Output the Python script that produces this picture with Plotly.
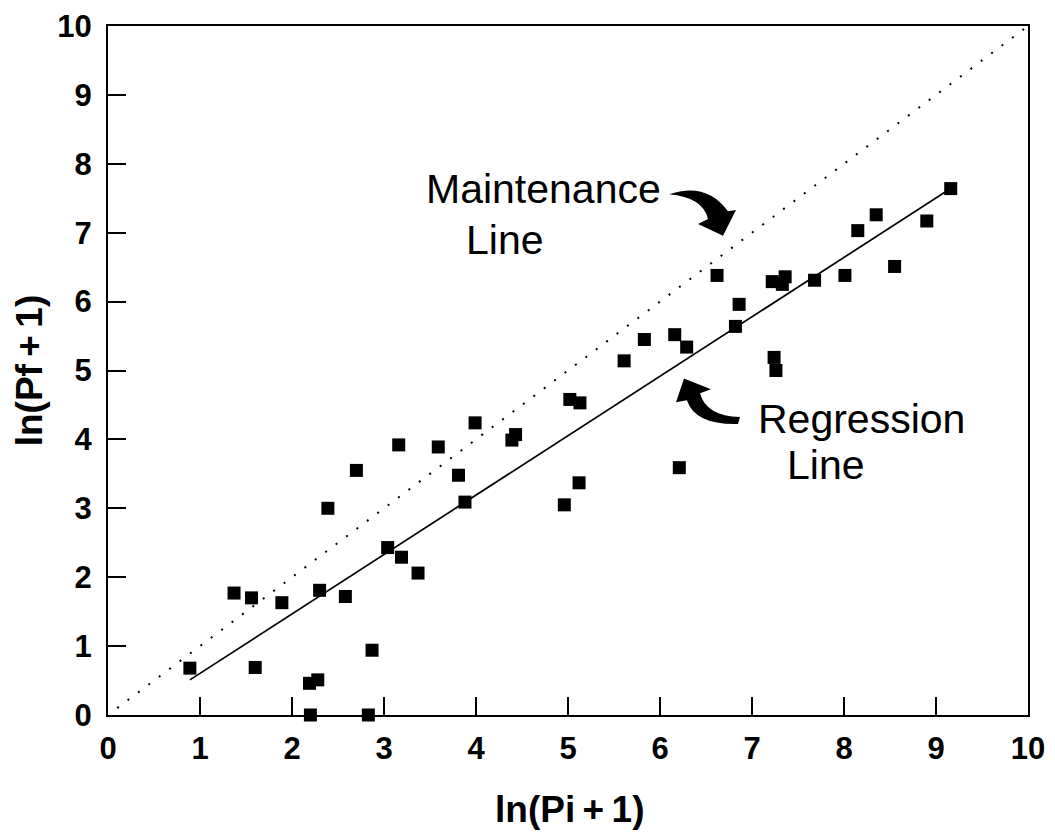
import plotly.graph_objects as go

# Scatter data
pi_vals = [0.89, 1.37, 1.56, 1.60, 1.89, 2.19, 2.28, 2.20, 2.30, 2.39, 2.58, 2.70,
           2.87, 2.83, 3.04, 3.16, 3.19, 3.37, 3.59, 3.81, 3.88, 3.99, 4.39, 4.43,
           4.96, 5.02, 5.12, 5.13, 5.61, 5.83, 6.16, 6.21, 6.29, 6.62, 6.82, 6.86,
           7.22, 7.24, 7.26, 7.33, 7.36, 7.68, 8.01, 8.15, 8.35, 8.55, 8.90, 9.16]
pf_vals = [0.68, 1.77, 1.70, 0.69, 1.63, 0.46, 0.51, 0.00, 1.81, 3.00, 1.72, 3.55,
           0.94, 0.00, 2.43, 3.92, 2.29, 2.06, 3.89, 3.48, 3.09, 4.24, 3.99, 4.07,
           3.05, 4.58, 3.37, 4.53, 5.14, 5.45, 5.52, 3.59, 5.34, 6.38, 5.64, 5.96,
           6.29, 5.19, 5.00, 6.25, 6.36, 6.31, 6.38, 7.03, 7.26, 6.51, 7.17, 7.64]

# Regression line endpoints
reg_x = [0.89, 9.10]
reg_y = [0.51, 7.59]

# Maintenance line (y = x)
maint_x = [0.1, 10]
maint_y = [0.1, 10]

tick_vals = list(range(0, 11))
tick_text = [str(v) for v in tick_vals]

FONT = "Liberation Sans, Arial, Helvetica, sans-serif"

fig = go.Figure()
fig.add_trace(go.Scatter(x=maint_x, y=maint_y, mode="lines",
                         line=dict(color="black", width=2, dash="2px,11px"),
                         hoverinfo="skip", showlegend=False))
fig.add_trace(go.Scatter(x=reg_x, y=reg_y, mode="lines",
                         line=dict(color="black", width=1.7),
                         hoverinfo="skip", showlegend=False))
fig.add_trace(go.Scatter(x=pi_vals, y=pf_vals, mode="markers",
                         marker=dict(symbol="square", size=13, color="black"),
                         cliponaxis=False, showlegend=False))

# Curved arrows (decorations)
maint_arrow = ("M 6.098 7.557 Q 6.500 7.744 6.739 7.313 L 6.826 7.328 L 6.685 6.954 "
               "L 6.413 7.126 L 6.522 7.198 Q 6.467 7.514 6.098 7.557 Z")
reg_arrow = ("M 6.261 4.885 L 6.554 4.727 L 6.435 4.670 Q 6.500 4.339 6.870 4.325 "
             "L 6.848 4.224 Q 6.380 4.210 6.293 4.569 L 6.174 4.540 Z")
for p in (maint_arrow, reg_arrow):
    fig.add_shape(type="path", path=p, xref="x", yref="y",
                  fillcolor="black", line=dict(color="black", width=0))

ann_font = dict(family=FONT, size=41, color="black")
fig.add_annotation(x=4.739, y=7.64, text="Maintenance", showarrow=False, font=ann_font,
                   xanchor="center", yanchor="middle")
fig.add_annotation(x=4.32, y=6.90, text="Line", showarrow=False, font=ann_font,
                   xanchor="center", yanchor="middle")
fig.add_annotation(x=8.185, y=4.30, text="Regression", showarrow=False, font=ann_font,
                   xanchor="center", yanchor="middle")
fig.add_annotation(x=7.80, y=3.63, text="Line", showarrow=False, font=ann_font,
                   xanchor="center", yanchor="middle")

title_font = dict(family=FONT, size=37, color="black")
fig.add_annotation(xref="paper", yref="paper", x=0.502, y=-0.137,
                   text="<b>ln(Pi\u2009+\u20091)</b>", showarrow=False, font=title_font,
                   xanchor="center", yanchor="middle")
fig.add_annotation(xref="paper", yref="paper", x=-0.085, y=0.50,
                   text="<b>ln(Pf\u2009+\u20091)</b>", showarrow=False, font=title_font,
                   textangle=-90, xanchor="center", yanchor="middle")

axis_common = dict(range=[0, 10], tickvals=tick_vals, ticktext=tick_text,
                   showgrid=False, zeroline=False, showline=True, linecolor="black",
                   linewidth=2, mirror=True, ticks="inside", ticklen=18, tickwidth=1.5,
                   tickcolor="black", automargin=False, ticklabeloverflow="allow",
                   tickfont=dict(family=FONT, size=31, color="black", weight="bold"))

fig.update_xaxes(**axis_common, ticklabelstandoff=5)
fig.update_yaxes(**axis_common, ticklabelstandoff=8)

fig.update_layout(width=1055, height=836, plot_bgcolor="white", paper_bgcolor="white",
                  margin=dict(l=100, r=35, t=18, b=129), showlegend=False)

fig.write_html("out.html")
